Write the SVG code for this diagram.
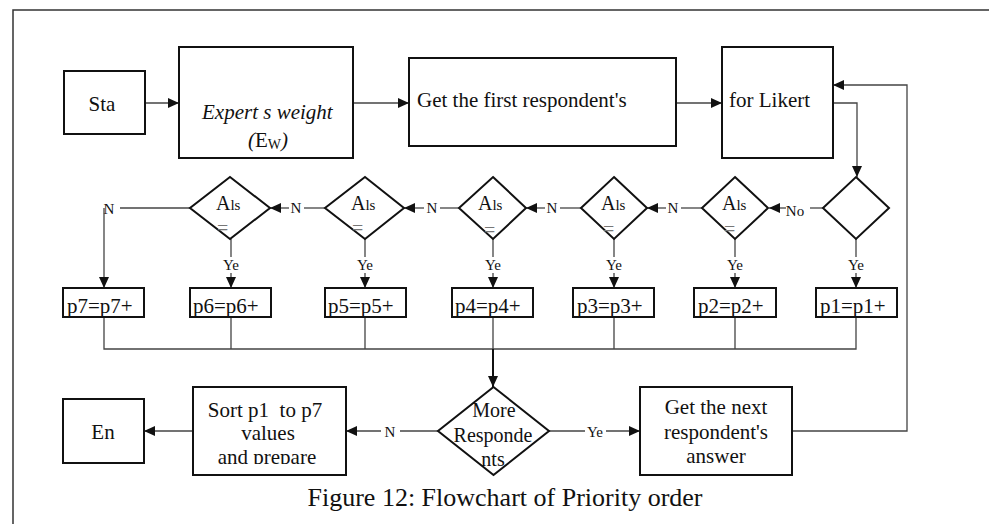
<svg xmlns="http://www.w3.org/2000/svg" width="989" height="524" viewBox="0 0 989 524">
<style>
text{font-family:"Liberation Serif","Times New Roman",serif;fill:#111}
.box{fill:#fff;stroke:#111;stroke-width:2}
.dia{fill:#fff;stroke:#111;stroke-width:2}
.ln{fill:none;stroke:#444;stroke-width:1.3}
.thk{fill:none;stroke:#111;stroke-width:2}
.t21{font-size:21px}
.lab{font-size:15px;text-anchor:middle}
.eq{font-size:20px;fill:#777}
.mid{text-anchor:middle}
</style>
<defs>
<marker id="ah" markerUnits="userSpaceOnUse" markerWidth="11" markerHeight="10" refX="11" refY="5" orient="auto"><path d="M0,0 L11,5 L0,10 z" fill="#111"/></marker>
<clipPath id="sortclip"><rect x="193" y="387" width="153" height="77"/></clipPath>
</defs>
<rect width="989" height="524" fill="#fff"/>
<path d="M13,524 V10 H989" fill="none" stroke="#333" stroke-width="1.5"/>

<g id="connectors">
<path class="ln" d="M145,103 H179" marker-end="url(#ah)"/>
<path class="ln" d="M353,103 H409" marker-end="url(#ah)"/>
<path class="ln" d="M676,103 H722" marker-end="url(#ah)"/>
<path class="ln" d="M833,103 H857 V177" marker-end="url(#ah)"/>
<path class="ln" d="M792,431 H907 V85 H833" marker-end="url(#ah)"/>
<!-- No branches -->
<path class="ln" d="M823,208 H810"/><path class="ln" d="M786,208 H769" marker-end="url(#ah)"/>
<path class="ln" d="M702,208 H681"/><path class="ln" d="M666,208 H647" marker-end="url(#ah)"/>
<path class="ln" d="M581,208 H560"/><path class="ln" d="M545,208 H526" marker-end="url(#ah)"/>
<path class="ln" d="M459,208 H440"/><path class="ln" d="M424,208 H404" marker-end="url(#ah)"/>
<path class="ln" d="M325,208 H304"/><path class="ln" d="M289,208 H270" marker-end="url(#ah)"/>
<path class="ln" d="M190,208 H120"/><path class="ln" d="M104,208 V288" marker-end="url(#ah)"/>
<!-- Yes branches -->
<path class="ln" d="M856,239 V257"/><path class="ln" d="M856,273 V288" marker-end="url(#ah)"/>
<path class="ln" d="M735,239 V257"/><path class="ln" d="M735,273 V288" marker-end="url(#ah)"/>
<path class="ln" d="M614,239 V257"/><path class="ln" d="M614,273 V288" marker-end="url(#ah)"/>
<path class="ln" d="M493,239 V257"/><path class="ln" d="M493,273 V288" marker-end="url(#ah)"/>
<path class="ln" d="M365,239 V257"/><path class="ln" d="M365,273 V288" marker-end="url(#ah)"/>
<path class="ln" d="M231,239 V257"/><path class="ln" d="M231,273 V288" marker-end="url(#ah)"/>
<!-- collector -->
<path class="ln" d="M104,317 V349 H856 V317 M231,317 V349 M365,317 V349 M493,317 V349 M614,317 V349 M735,317 V349"/>
<path class="thk" d="M493,349 V387" marker-end="url(#ah)"/>
<path class="ln" d="M438,431 H400"/><path class="ln" d="M381,431 H346" marker-end="url(#ah)"/>
<path class="ln" d="M193,431 H144" marker-end="url(#ah)"/>
<path class="ln" d="M549,431 H585"/><path class="ln" d="M606,431 H640" marker-end="url(#ah)"/>
<text class="lab" x="795" y="216">No</text>
<text class="lab" x="673" y="213">N</text>
<text class="lab" x="552" y="213">N</text>
<text class="lab" x="432" y="213">N</text>
<text class="lab" x="296" y="213">N</text>
<text class="lab" x="109" y="214">N</text>
<text class="lab" x="856" y="270">Ye</text>
<text class="lab" x="735" y="270">Ye</text>
<text class="lab" x="614" y="270">Ye</text>
<text class="lab" x="493" y="270">Ye</text>
<text class="lab" x="365" y="270">Ye</text>
<text class="lab" x="231" y="270">Ye</text>
<text class="lab" x="390" y="437">N</text>
<text class="lab" x="595" y="437">Ye</text>
</g>

<g id="start"><rect class="box" x="64" y="71" width="81" height="63"/><text class="t21 mid" x="102" y="111">Sta</text></g>
<g id="expert"><rect class="box" x="179" y="47" width="174" height="111"/>
<text class="t21" x="202" y="119" font-style="italic">Expert s weight</text>
<text class="t21" x="248" y="147"><tspan font-style="italic">(</tspan>E<tspan font-size="14" dy="2">W</tspan><tspan font-style="italic" dy="-2">)</tspan></text></g>
<g id="getfirst"><rect class="box" x="409" y="58" width="267" height="88"/><text class="t21" x="417" y="107">Get the first respondent's</text></g>
<g id="likert"><rect class="box" x="722" y="47" width="111" height="111"/><text class="t21" x="729" y="107">for Likert</text></g>

<g id="d1"><path class="dia" d="M856,177 L889,208 L856,239 L823,208 z"/></g>
<g id="d2"><path class="dia" d="M735,177 L768,208 L735,239 L702,208 z"/><text x="722" y="210" font-size="20">A<tspan font-size="15">ls</tspan></text><text class="eq" x="724" y="236">=</text></g>
<g id="d3"><path class="dia" d="M614,177 L647,208 L614,239 L581,208 z"/><text x="601" y="210" font-size="20">A<tspan font-size="15">ls</tspan></text><text class="eq" x="603" y="236">=</text></g>
<g id="d4"><path class="dia" d="M493,177 L526,208 L493,239 L459,208 z"/><text x="478" y="210" font-size="20">A<tspan font-size="15">ls</tspan></text><text class="eq" x="484" y="237">=</text></g>
<g id="d5"><path class="dia" d="M365,177 L404,208 L365,239 L325,208 z"/><text x="351" y="210" font-size="20">A<tspan font-size="15">ls</tspan></text><text class="eq" x="352" y="235">=</text></g>
<g id="d6"><path class="dia" d="M230,177 L270,208 L230,239 L190,208 z"/><text x="216" y="210" font-size="20">A<tspan font-size="15">ls</tspan></text><text class="eq" x="217" y="235">=</text></g>

<g id="p7"><rect class="box" x="63" y="288" width="81" height="29"/><text class="t21" x="67" y="313">p7=p7+</text></g>
<g id="p6"><rect class="box" x="190" y="288" width="81" height="29"/><text class="t21" x="193" y="313">p6=p6+</text></g>
<g id="p5"><rect class="box" x="325" y="288" width="81" height="29"/><text class="t21" x="328" y="313">p5=p5+</text></g>
<g id="p4"><rect class="box" x="452" y="288" width="81" height="29"/><text class="t21" x="455" y="313">p4=p4+</text></g>
<g id="p3"><rect class="box" x="573" y="288" width="81" height="29"/><text class="t21" x="577" y="313">p3=p3+</text></g>
<g id="p2"><rect class="box" x="694" y="288" width="82" height="29"/><text class="t21" x="698" y="313">p2=p2+</text></g>
<g id="p1"><rect class="box" x="816" y="288" width="81" height="29"/><text class="t21" x="820" y="313">p1=p1+</text></g>

<g id="more"><path class="dia" d="M493.5,387 L549,431 L493.5,475 L438,431 z"/>
<text class="mid" font-size="20" x="494" y="417">More</text>
<text class="mid" font-size="20" x="493" y="442">Responde</text>
<text class="mid" font-size="20" x="493" y="466">nts</text></g>
<g id="sort"><rect class="box" x="193" y="387" width="153" height="88"/>
<g clip-path="url(#sortclip)" class="t21">
<text class="mid" x="265" y="417" xml:space="preserve">Sort p1  to p7</text>
<text class="mid" x="268" y="440">values</text>
<text class="mid" x="267" y="464">and prepare</text></g></g>
<g id="end"><rect class="box" x="63" y="399" width="81" height="64"/><text class="t21 mid" x="103" y="439">En</text></g>
<g id="getnext"><rect class="box" x="640" y="387" width="152" height="88"/>
<text class="t21 mid" x="716" y="414">Get the next</text>
<text class="t21 mid" x="716" y="439">respondent's</text>
<text class="t21 mid" x="716" y="463">answer</text></g>

<text x="505" y="506" font-size="26" text-anchor="middle">Figure 12: Flowchart of Priority order</text>
</svg>
